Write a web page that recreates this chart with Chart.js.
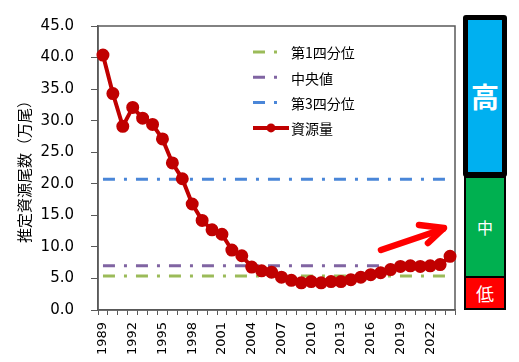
<!DOCTYPE html>
<html lang="ja">
<head>
<meta charset="utf-8">
<script src="https://cdn.jsdelivr.net/npm/chart.js@4.4.0/dist/chart.umd.min.js"></script>
<style>
  html, body { margin: 0; padding: 0; background: #fff; }
  #wrap { position: relative; width: 519px; height: 362px; }
  #chart { position: absolute; left: 0; top: 0; }
  .lvl {
    position: absolute; box-sizing: border-box; color: #fff;
    display: flex; align-items: center; justify-content: center;
    font-family: "Noto Sans CJK JP";
  }
  #arrow { position: absolute; left: 0; top: 0; }
</style>
</head>
<body>
<div id="wrap">
  <canvas id="chart" width="519" height="362"></canvas>
  <div class="lvl" style="left:463px;top:15px;width:44px;height:162px;background:#00B0F0;border:5px solid #000;border-radius:3px;font-size:28px;font-weight:bold;">高</div>
  <div class="lvl" style="left:464px;top:176px;width:42px;height:102px;background:#00B050;border:2px solid #000;font-size:16px;">中</div>
  <div class="lvl" style="left:464px;top:276px;width:42px;height:34px;background:#FF0000;border:2px solid #000;font-size:18px;">低</div>
  <svg id="arrow" width="519" height="362">
    <g stroke="#FF0000" stroke-width="6.5" fill="none" stroke-linecap="round" stroke-linejoin="round">
      <line x1="381" y1="250" x2="443" y2="229"/>
      <polyline points="419,225 444,228 428,243"/>
    </g>
  </svg>
</div>
<script>
// 年（カテゴリ）
const years = ['1989', '1990', '1991', '1992', '1993', '1994', '1995', '1996', '1997', '1998',
    '1999', '2000', '2001', '2002', '2003', '2004', '2005', '2006', '2007', '2008',
    '2009', '2010', '2011', '2012', '2013', '2014', '2015', '2016', '2017', '2018',
    '2019', '2020', '2021', '2022', '2023', '2024'];

// 推定資源尾数（万尾）
const stock = [40.4, 34.3, 29.1, 32.1, 30.4, 29.4, 27.1, 23.3, 20.8, 16.8,
    14.2, 12.7, 12.0, 9.5, 8.6, 6.8, 6.2, 6.0, 5.2, 4.7,
    4.3, 4.5, 4.3, 4.5, 4.5, 4.8, 5.2, 5.6, 5.9, 6.4,
    6.9, 7.0, 6.9, 7.0, 7.2, 8.5];

// 基準値
const q1Value = 5.4;
const medianValue = 7.0;
const q3Value = 20.7;

// 軸ラベル
const xTickLabels = ['1989', '1992', '1995', '1998', '2001', '2004', '2007', '2010', '2013', '2016', '2019', '2022'];
const yMin = 0, yMax = 45, yStep = 5;

const dashDot = [12, 9, 3, 9];
const flat = v => years.map(() => v);

// 凡例（グラフ内に描く）
const legendPlugin = {
    id: 'insideLegend',
    afterDraw(chart) {
        const ctx = chart.ctx;
        const order = [1, 2, 3, 0];
        const x0 = 253, x1 = 289, yTop = 52, gap = 25.3;
        ctx.save();
        order.forEach((di, i) => {
            const ds = chart.data.datasets[di];
            const y = yTop + i * gap;
            ctx.strokeStyle = ds.borderColor;
            ctx.lineWidth = ds.borderWidth;
            ctx.setLineDash(ds.borderDash || []);
            ctx.beginPath();
            ctx.moveTo(x0, y);
            ctx.lineTo(ds.borderDash ? x0 + 27 : x1, y);
            ctx.stroke();
            ctx.setLineDash([]);
            if (ds.pointRadius) {
                ctx.fillStyle = ds.pointBackgroundColor;
                ctx.beginPath();
                ctx.arc((x0 + x1) / 2, y, ds.pointRadius, 0, Math.PI * 2);
                ctx.fill();
            }
            ctx.fillStyle = '#000';
            ctx.font = '14px "Noto Sans CJK JP"';
            ctx.textBaseline = 'middle';
            ctx.fillText(ds.label, x1 + 2, y + 1);
        });
        ctx.restore();
    }
};

// 枠線
const framePlugin = {
    id: 'frame',
    beforeDatasetsDraw(chart) {
        const a = chart.chartArea;
        const ctx = chart.ctx;
        ctx.save();
        ctx.strokeStyle = '#595959';
        ctx.lineWidth = 1.5;
        ctx.strokeRect(a.left, a.top, a.right - a.left, a.bottom - a.top);
        ctx.restore();
    }
};

new Chart(document.getElementById('chart').getContext('2d'), {
    type: 'line',
    data: {
        labels: years,
        datasets: [{
            label: '資源量',
            data: stock,
            borderColor: '#C00000',
            backgroundColor: '#C00000',
            pointBackgroundColor: '#C00000',
            pointBorderColor: '#C00000',
            borderWidth: 4,
            pointRadius: 4.5,
            tension: 0
        }, {
            label: '第1四分位',
            data: flat(q1Value),
            borderColor: '#9BBB59',
            borderWidth: 3,
            borderDash: dashDot,
            pointRadius: 0
        }, {
            label: '中央値',
            data: flat(medianValue),
            borderColor: '#8064A2',
            borderWidth: 3,
            borderDash: dashDot,
            pointRadius: 0
        }, {
            label: '第3四分位',
            data: flat(q3Value),
            borderColor: '#4A86D8',
            borderWidth: 3,
            borderDash: dashDot,
            pointRadius: 0
        }]
    },
    options: {
        responsive: false,
        animation: false,
        layout: { padding: { top: 17, right: 64, left: 0, bottom: 0 } },
        scales: {
            x: {
                offset: true,
                grid: { offset: true, drawOnChartArea: false, tickLength: 5, color: '#595959' },
                border: { color: '#595959', width: 1.5 },
                ticks: {
                    autoSkip: false, maxRotation: 90, minRotation: 90, padding: 7,
                    color: '#000',
                    font: { family: 'DejaVu Sans', size: 13 },
                    callback: function (value, index) {
                        return xTickLabels.includes(years[index]) ? years[index] : '';
                    }
                },
                afterFit(scale) { scale.height = 52; }
            },
            y: {
                min: yMin, max: yMax,
                grid: { drawOnChartArea: false, tickLength: 7, color: '#595959' },
                border: { color: '#595959', width: 1.5 },
                ticks: {
                    stepSize: yStep, padding: 17, color: '#000',
                    font: { family: 'DejaVu Sans', size: 15 },
                    callback: function (value) { return value.toFixed(1); }
                },
                title: {
                    display: true, text: '推定資源尾数（万尾）', color: '#000',
                    font: { family: 'Noto Sans CJK JP', size: 15 },
                    padding: { top: 15, bottom: 0 }
                },
                afterFit(scale) { scale.width = 98; }
            }
        },
        plugins: {
            legend: { display: false },
            tooltip: { enabled: false }
        }
    },
    plugins: [framePlugin, legendPlugin]
});
</script>
</body>
</html>
